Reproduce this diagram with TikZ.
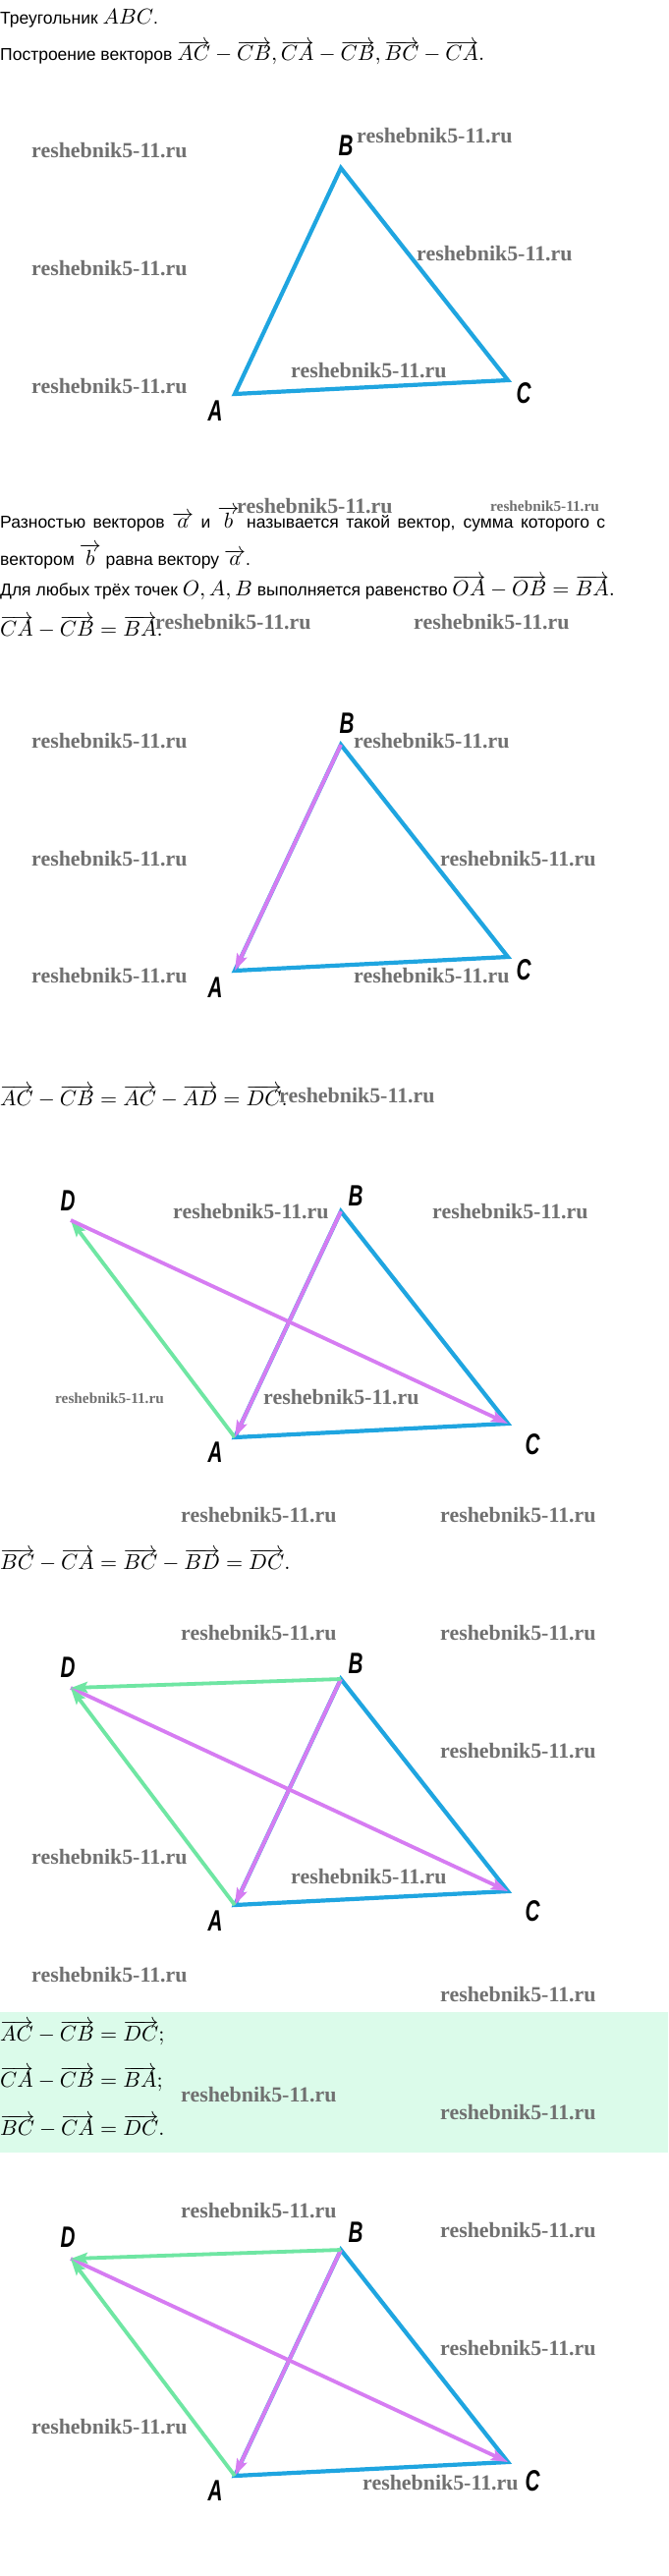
\documentclass[tikz,border=0pt]{standalone}
\usepackage{fontspec}
\usetikzlibrary{arrows.meta}
\newfontfamily\txtfam{Liberation Sans}
\newfontfamily\wmfam{Liberation Serif}
\newfontfamily\lblfam{Liberation Sans}
\definecolor{tblue}{HTML}{1FA5E0}
\definecolor{tpink}{HTML}{D67CF2}
\definecolor{tgreen}{HTML}{6FE6A3}
\definecolor{boxgreen}{HTML}{DBFBEA}
\definecolor{wmgray}{HTML}{707070}
\newcommand\ovr[1]{\overrightarrow{#1}}
\newcommand\mth[1]{\scalebox{2.2}{\normalsize$#1$}}
\newcommand\vlab[1]{\scalebox{0.69}[1]{#1}}
\tikzset{
  txt/.style={anchor=base west, inner sep=0pt, font=\fontsize{17.5}{21}\selectfont\txtfam},
  wm/.style={anchor=west, inner sep=0pt, text=wmgray, font=\fontsize{21.9}{24}\selectfont\wmfam\bfseries},
  wms/.style={wm, font=\fontsize{15.3}{18}\selectfont\wmfam\bfseries},
  vlbl/.style={inner sep=0pt, font=\fontsize{30}{32}\selectfont\lblfam\bfseries\itshape},
  side/.style={draw=tblue, line width=4.2pt, line join=miter, line cap=butt},
  pinkarr/.style={draw=tpink, line width=3.8pt, -{Stealth[length=17pt,width=11pt,inset=3pt]}},
  greenarr/.style={draw=tgreen, line width=3.8pt, -{Stealth[length=17pt,width=11pt,inset=3pt]}},
}
\begin{document}
\begin{tikzpicture}[x=1pt,y=-1pt]
\useasboundingbox (0,0) rectangle (680,2622);
\fill[white] (0,0) rectangle (680,2622);
% green box
\fill[boxgreen] (0,2048) rectangle (680,2191);

% ---------- texts ----------
\node[txt] (t1) at (0,25) {Треугольник \mth{ABC}.};
\node[txt] (t2) at (0,62) {Построение векторов \mth{\ovr{AC}-\ovr{CB},\ovr{CA}-\ovr{CB},\ovr{BC}-\ovr{CA}.}};
\node[txt] (p1) at (0,537) {\hbox to 616pt{Разностью векторов \mth{\ovr{a}} и \mth{\ovr{b}} называется такой вектор, сумма которого с}};
\node[txt] (p2) at (0,575) {вектором \mth{\ovr{b}} равна вектору \mth{\ovr{a}}.};
\node[txt] (p3) at (0,606) {Для любых трёх точек \mth{O, A, B} выполняется равенство \mth{\ovr{OA}-\ovr{OB}=\ovr{BA}.}};
\node[txt] (p4) at (0,647) {\mth{\ovr{CA}-\ovr{CB}=\ovr{BA}.}};
\node[txt] (l5) at (0,1125) {\mth{\ovr{AC}-\ovr{CB}=\ovr{AC}-\ovr{AD}=\ovr{DC}.}};
\node[txt] (l6) at (0,1597) {\mth{\ovr{BC}-\ovr{CA}=\ovr{BC}-\ovr{BD}=\ovr{DC}.}};
\node[txt] (b1) at (0,2077) {\mth{\ovr{AC}-\ovr{CB}=\ovr{DC};}};
\node[txt] (b2) at (0,2124) {\mth{\ovr{CA}-\ovr{CB}=\ovr{BA};}};
\node[txt] (b3) at (0,2173) {\mth{\ovr{BC}-\ovr{CA}=\ovr{DC}.}};

% ---------- points ----------
\foreach \k/\o in {1/0,2/587,3/1062,4/1538,5/2119}{
  \coordinate (A\k) at (239,401+\o);
  \coordinate (B\k) at (347,171+\o);
  \coordinate (C\k) at (517,387+\o);
  \coordinate (D\k) at (72,180+\o);
}

% ---------- diagram 1 ----------
\draw[side] (A1) -- (B1) -- (C1) -- cycle;
\node[vlbl] (lB1) at (352,148) {\vlab{B}};
\node[vlbl] (lA1) at (219,418) {\vlab{A}};
\node[vlbl] (lC1) at (533,400) {\vlab{C}};

% ---------- diagram 2 ----------
\draw[side] (A2) -- (B2) -- (C2) -- cycle;
\draw[pinkarr] (B2) -- (A2);
\node[vlbl] (lB2) at (353,736) {\vlab{B}};
\node[vlbl] (lA2) at (219,1005) {\vlab{A}};
\node[vlbl] (lC2) at (533,987) {\vlab{C}};

% ---------- diagram 3 ----------
\draw[side] (A3) -- (B3) -- (C3) -- cycle;
\draw[greenarr] (A3) -- (D3);
\draw[pinkarr] (D3) -- (C3);
\draw[pinkarr] (B3) -- (A3);
\node[vlbl] (lD3) at (69,1222) {\vlab{D}};
\node[vlbl] (lB3) at (362,1217) {\vlab{B}};
\node[vlbl] (lA3) at (219,1478) {\vlab{A}};
\node[vlbl] (lC3) at (542,1470) {\vlab{C}};

% ---------- diagram 4 ----------
\draw[side] (A4) -- (B4) -- (C4) -- cycle;
\draw[pinkarr] (D4) -- (C4);
\draw[pinkarr] (B4) -- (A4);
\draw[greenarr] (A4) -- (D4);
\draw[greenarr] (B4) -- (D4);
\node[vlbl] (lD4) at (69,1697) {\vlab{D}};
\node[vlbl] (lB4) at (362,1693) {\vlab{B}};
\node[vlbl] (lA4) at (219,1955) {\vlab{A}};
\node[vlbl] (lC4) at (542,1945) {\vlab{C}};

% ---------- diagram 5 ----------
\draw[side] (A5) -- (B5) -- (C5) -- cycle;
\draw[pinkarr] (D5) -- (C5);
\draw[pinkarr] (B5) -- (A5);
\draw[greenarr] (A5) -- (D5);
\draw[greenarr] (B5) -- (D5);
\node[vlbl] (lD5) at (69,2277) {\vlab{D}};
\node[vlbl] (lB5) at (362,2272) {\vlab{B}};
\node[vlbl] (lA5) at (219,2535) {\vlab{A}};
\node[vlbl] (lC5) at (542,2525) {\vlab{C}};

% ---------- watermarks ----------
\node[wm] (w1) at (32,153) {reshebnik5-11.ru};
\node[wm] (w2) at (363,138) {reshebnik5-11.ru};
\node[wm] (w3) at (32,273) {reshebnik5-11.ru};
\node[wm] (w4) at (424,258) {reshebnik5-11.ru};
\node[wm] (w5) at (32,393) {reshebnik5-11.ru};
\node[wm] (w6) at (296,377) {reshebnik5-11.ru};
\node[wm] (w7) at (241,515) {reshebnik5-11.ru};
\node[wms] (w8) at (499,515) {reshebnik5-11.ru};
\node[wm] (w9) at (158,633) {reshebnik5-11.ru};
\node[wm] (w10) at (421,633) {reshebnik5-11.ru};
\node[wm] (w11) at (32,754) {reshebnik5-11.ru};
\node[wm] (w12) at (360,754) {reshebnik5-11.ru};
\node[wm] (w13) at (32,874) {reshebnik5-11.ru};
\node[wm] (w14) at (448,874) {reshebnik5-11.ru};
\node[wm] (w15) at (32,993) {reshebnik5-11.ru};
\node[wm] (w16) at (360,993) {reshebnik5-11.ru};
\node[wm] (w17) at (284,1115) {reshebnik5-11.ru};
\node[wm] (w18) at (176,1233) {reshebnik5-11.ru};
\node[wm] (w19) at (440,1233) {reshebnik5-11.ru};
\node[wms] (w20) at (56,1423) {reshebnik5-11.ru};
\node[wm] (w21) at (268,1422) {reshebnik5-11.ru};
\node[wm] (w22) at (184,1542) {reshebnik5-11.ru};
\node[wm] (w23) at (448,1542) {reshebnik5-11.ru};
\node[wm] (w24) at (184,1662) {reshebnik5-11.ru};
\node[wm] (w25) at (448,1662) {reshebnik5-11.ru};
\node[wm] (w26) at (448,1782) {reshebnik5-11.ru};
\node[wm] (w27) at (32,1890) {reshebnik5-11.ru};
\node[wm] (w28) at (296,1910) {reshebnik5-11.ru};
\node[wm] (w29) at (32,2010) {reshebnik5-11.ru};
\node[wm] (w30) at (448,2030) {reshebnik5-11.ru};
\node[wm] (w31) at (184,2132) {reshebnik5-11.ru};
\node[wm] (w32) at (448,2150) {reshebnik5-11.ru};
\node[wm] (w33) at (184,2250) {reshebnik5-11.ru};
\node[wm] (w34) at (448,2270) {reshebnik5-11.ru};
\node[wm] (w35) at (448,2390) {reshebnik5-11.ru};
\node[wm] (w36) at (32,2470) {reshebnik5-11.ru};
\node[wm] (w37) at (369,2527) {reshebnik5-11.ru};
\end{tikzpicture}
\end{document}
